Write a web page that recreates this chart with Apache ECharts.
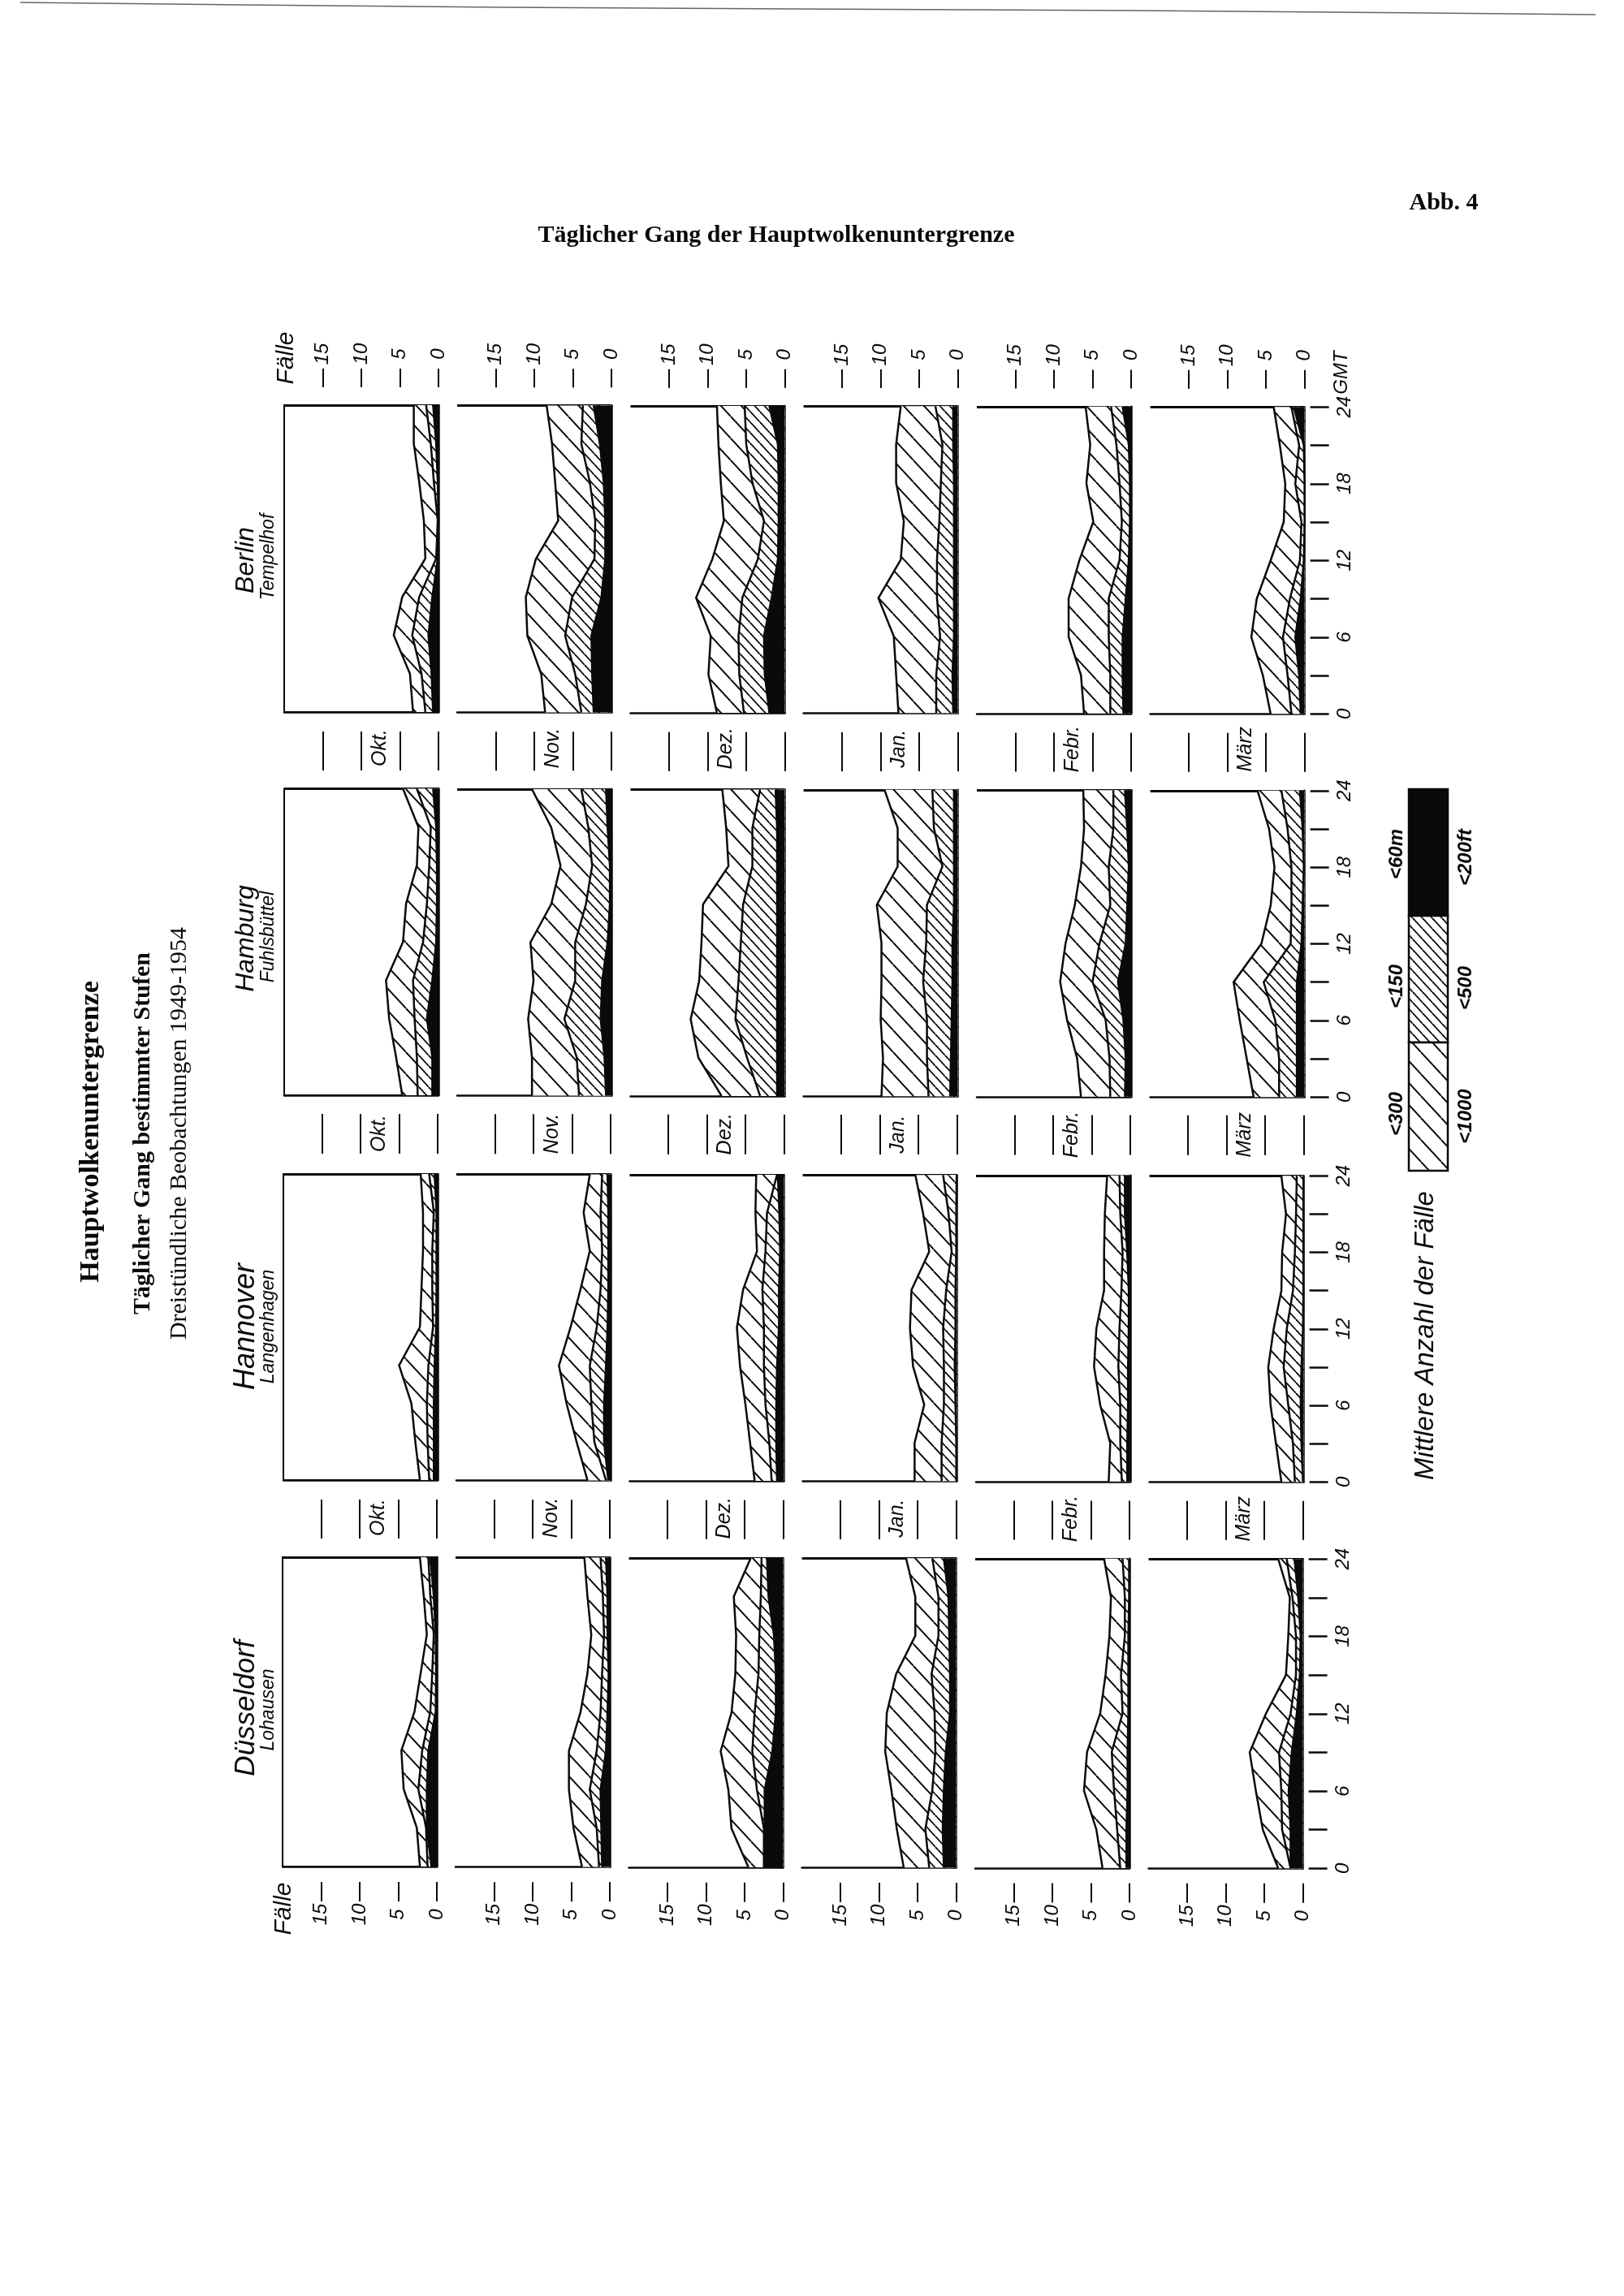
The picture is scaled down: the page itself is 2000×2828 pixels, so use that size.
<!DOCTYPE html>
<html><head><meta charset="utf-8">
<style>html,body{margin:0;padding:0;background:#fff}#c{width:2000px;height:2828px}</style>
<script src="https://cdn.jsdelivr.net/npm/echarts@6/dist/echarts.min.js"></script>
</head><body><div id="c"></div>
<script>
const hours = ['0','3','6','9','12','15','18','21','24'];
const valueTicks = [0,5,10,15];
const months = ['Okt.','Nov.','Dez.','Jan.','Febr.','März'];
const stations = ['Berlin','Hamburg','Hannover','Düsseldorf'];
const sites = ['Tempelhof','Fuhlsbüttel','Langenhagen','Lohausen'];
const bandNames = ['<300 m / <1000 ft','<150 m / <500 ft','<60 m / <200 ft'];

// each month: [<1000 ft, <500 ft, <200 ft] cumulative mean number of cases at 0,3,...,24 GMT
const berlinOkt = [[3.3,3.7,5.8,4.7,1.7,1.9,2.5,3.2,3.2],[1.7,2.2,3.4,2.5,0.3,0.1,0.6,1.0,1.6],[0.7,0.9,1.3,0.8,0.1,0,0.1,0.3,0.7]];
const berlinNov = [[8.6,9.1,10.9,11.1,9.8,6.9,7.3,7.7,8.4],[3.9,4.7,6.0,5.1,2.2,2.1,2.8,3.9,3.7],[2.3,2.5,2.6,1.3,0.8,0.8,1.0,1.5,2.3]];
const berlinDez = [[8.8,9.9,9.6,11.5,9.4,7.9,8.3,8.6,8.8],[5.3,5.9,6.0,5.5,3.5,2.7,4.2,5.0,5.2],[2.0,2.6,2.7,1.7,0.9,0.8,0.8,0.9,2.0]];
const berlinJan = [[7.7,8.0,8.3,10.3,7.4,7.0,8.0,8.0,7.4],[2.8,2.8,2.3,2.7,2.7,2.4,2.2,2.0,2.9],[0.6,0.7,0.5,0.5,0.5,0.5,0.5,0.6,0.6]];
const berlinFeb = [[6.1,6.5,8.1,8.1,6.7,4.9,5.8,5.3,5.9],[2.7,2.7,2.9,2.9,1.5,1.2,1.5,1.9,2.6],[1.0,1.1,1.1,0.7,0.3,0.15,0.15,0.3,1.1]];
const berlinMar = [[4.4,5.4,6.9,6.2,4.4,2.7,2.5,3.2,4.0],[1.7,2.2,2.8,1.9,0.6,0.4,1.2,0.7,1.7],[0.5,0.7,1.2,0.5,0.1,0,0,0.1,1.4]];

const hamburgOkt = [[4.7,5.5,6.4,6.8,4.6,4.2,2.8,2.6,4.6],[2.7,2.8,3.1,3.3,2.0,1.5,1.2,1.0,2.8],[0.8,0.8,1.5,0.8,0.3,0.2,0.2,0.3,0.7]];
const hamburgNov = [[10.3,10.3,10.8,10.1,10.5,7.8,6.6,7.8,10.3],[4.2,4.5,6.1,4.7,4.7,3.3,2.5,3.0,3.9],[0.7,0.9,1.4,1.2,0.5,0.2,0.2,0.5,0.7]];
const hamburgDez = [[8.2,11.2,12.2,11.1,10.8,10.6,7.3,7.6,8.1],[3.2,4.9,6.4,6.0,5.7,5.4,4.2,4.2,3.2],[1.0,1.0,1.0,1.0,1.0,1.0,1.0,1.0,1.2]];
const hamburgJan = [[9.9,9.7,10.0,9.9,9.9,10.5,7.8,7.8,9.5],[3.8,4.0,4.0,4.5,4.1,4.0,2.0,3.1,3.3],[1.0,0.9,0.8,0.7,0.7,0.5,0.5,0.5,0.5]];
const hamburgFeb = [[6.5,7.0,8.3,9.2,8.5,7.3,6.5,6.1,6.2],[2.7,2.8,3.3,5.0,4.1,2.7,2.9,2.3,2.3],[0.8,0.7,1.0,1.7,0.7,0.5,0.3,0.5,0.8]];
const hamburgMar = [[6.6,7.5,8.4,9.2,5.6,4.4,3.9,4.6,6.1],[3.3,3.3,3.8,5.3,1.8,1.7,1.7,2.2,3.0],[1.0,1.0,1.0,1.0,0.4,0.25,0.1,0.25,0.6]];

const hannoverOkt = [[2.3,2.9,3.4,5.0,2.3,2.1,1.9,1.9,2.2],[1.1,1.3,1.4,1.2,0.6,0.7,0.7,0.5,1.1],[0.5,0.5,0.5,0.4,0.2,0.15,0.15,0.15,0.4]];
const hannoverNov = [[3.0,4.4,5.7,6.7,5.2,3.9,2.7,3.5,2.7],[0.6,2.1,2.5,2.7,1.8,1.3,1.1,1.3,1.1],[0.3,0.85,0.85,0.6,0.4,0.3,0.3,0.3,0.4]];
const hannoverDez = [[3.8,4.4,5.0,5.7,6.1,5.3,3.5,3.7,3.6],[1.6,1.9,2.4,2.6,2.6,2.8,2.4,2.2,0.9],[0.9,1.0,1.0,0.9,0.65,0.65,0.5,0.6,0.8]];
const hannoverJan = [[5.5,5.5,4.25,5.7,6.1,5.9,3.6,4.4,5.4],[2.0,2.0,1.7,1.7,1.8,1.4,0.7,1.1,1.8],[0.1,0.1,0.2,0.3,0.2,0.2,0.1,0.1,0.05]];
const hannoverFeb = [[2.8,2.6,3.9,4.7,4.4,3.4,3.4,3.3,3.0],[1.1,1.3,1.3,1.55,1.4,1.15,1.0,1.3,1.4],[0.4,0.4,0.3,0.3,0.2,0.2,0.4,0.7,0.7]];
const hannoverMar = [[2.9,3.6,4.3,4.6,3.9,2.9,2.8,2.3,2.9],[1.15,1.4,2.0,2.6,2.2,1.4,1.15,1.0,0.9],[0.1,0.3,0.4,0.3,0.1,0.05,0.05,0.05,0.05]];

const duesseldorfOkt = [[2.2,2.6,4.3,4.6,2.9,2.1,1.3,1.7,2.2],[1.2,1.4,2.4,1.9,0.85,0.6,0.4,0.85,1.1],[0.7,1.3,1.3,1.1,0.15,0.1,0.15,0.4,0.85]];
const duesseldorfNov = [[3.6,4.7,5.3,5.3,3.8,2.9,2.4,2.9,3.3],[1.4,1.7,2.6,1.7,1.2,1.0,0.75,0.9,1.2],[1.0,1.1,1.2,0.5,0.3,0.15,0.3,0.3,0.5]];
const duesseldorfDez = [[4.5,6.7,7.1,8.1,6.7,6.2,6.1,6.4,4.2],[2.5,2.5,3.4,4.0,3.7,3.2,3.1,2.9,2.8],[2.4,2.4,2.4,1.4,0.95,0.95,1.2,1.9,2.1]];
const duesseldorfJan = [[6.8,7.7,8.4,9.2,9.0,7.8,5.3,5.3,6.5],[3.5,4.0,3.1,2.7,2.8,3.2,2.3,2.3,3.1],[1.6,1.75,1.6,1.35,0.8,0.8,0.9,1.0,1.6]];
const duesseldorfFeb = [[3.5,4.3,5.9,5.5,3.8,3.1,2.6,2.4,3.3],[1.2,1.6,2.0,2.3,0.9,1.1,0.6,0.6,0.9],[0.4,0.4,0.25,0.25,0.15,0.15,0.15,0.05,0.05]];
const duesseldorfMar = [[3.2,5.2,6.1,6.9,4.8,2.2,1.9,1.7,3.2],[1.6,2.7,2.8,3.1,1.6,0.9,0.9,1.35,2.1],[1.6,1.6,1.85,1.45,0.8,0.4,0.3,0.6,1.1]];

const panels = [
  [berlinOkt,berlinNov,berlinDez,berlinJan,berlinFeb,berlinMar],
  [hamburgOkt,hamburgNov,hamburgDez,hamburgJan,hamburgFeb,hamburgMar],
  [hannoverOkt,hannoverNov,hannoverDez,hannoverJan,hannoverFeb,hannoverMar],
  [duesseldorfOkt,duesseldorfNov,duesseldorfDez,duesseldorfJan,duesseldorfFeb,duesseldorfMar]
];

// ---- layout ----
const colRight = [540,753,966.5,1179.6,1393,1606.6];
const rowTop = [499,971.5,1446,1918], rowBottom = [877,1349,1823,2299];
const rowDx = [0,0,-1,-2];
const colDy = c => c*0.45;
const panelW = 190, unit = panelW/20;
const strips = [[454,477],[901,949],[1372,1421],[1847,1895],[2318,2342]];
const INK = '#0a0a0a';
const sans = '"Liberation Sans", Arimo, sans-serif';
const serif = '"Liberation Serif", "DejaVu Serif", serif';

function hatch(w,h,lw){
  const c=document.createElement('canvas'); c.width=w; c.height=h;
  const g=c.getContext('2d'); g.fillStyle='#fff'; g.fillRect(0,0,w,h);
  g.strokeStyle=INK; g.lineWidth=lw;
  for(const dx of [-w,0,w]){ g.beginPath(); g.moveTo(dx,0); g.lineTo(dx+w,h); g.stroke(); }
  return c;
}
const wide={image:hatch(25,27,1.9),repeat:'repeat'};
const dense={image:hatch(12,13,1.8),repeat:'repeat'};
const fills=[wide,dense,INK];

const grid=[],xAxis=[],yAxis=[],series=[],graphic=[];
function addGrid(g,x,y){grid.push(g);const i=grid.length-1;xAxis.push(Object.assign({gridIndex:i},x));yAxis.push(Object.assign({gridIndex:i},y));return i;}
const hiddenY={type:'value',show:false,min:0,max:1};

panels.forEach((row,r)=>row.forEach((bands,c)=>{
  const right=colRight[c]+rowDx[r], top=rowTop[r]+colDy(c), bottom=rowBottom[r]+colDy(c);
  const i=addGrid(
    Object.assign({left:right-panelW,width:panelW,top:top,height:bottom-top},
      c===0?{show:true,borderColor:INK,borderWidth:2,backgroundColor:'transparent'}:{}),
    {type:'value',min:0,max:20,inverse:true,position:'bottom',
     axisLine:{show:true,onZero:false,lineStyle:{color:INK,width:2.5}},axisTick:{show:false},axisLabel:{show:false},splitLine:{show:false}},
    {type:'category',data:hours,boundaryGap:false,position:'right',
     axisLine:{show:true,onZero:false,lineStyle:{color:INK,width:2.5}},axisTick:{show:false},axisLabel:{show:false},
     splitLine:{show:true,interval:(idx)=>idx===8,lineStyle:{color:INK,width:3}}}
  );
  bands.forEach((vals,b)=>series.push({
    name:bandNames[b],type:'line',xAxisIndex:i,yAxisIndex:i,data:vals,
    showSymbol:false,symbol:'none',clip:false,animation:false,silent:true,
    lineStyle:{color:INK,width:2.5,join:'miter'},
    areaStyle:{color:fills[b],opacity:1,origin:'start'},z:2+b
  }));
}));

function vtext(t,x,y,font,extra){graphic.push({type:'text',x:x,y:y,rotation:Math.PI/2,
  style:Object.assign({text:t,font:font,fill:INK,align:'center',verticalAlign:'middle'},extra||{})});}

// value tick strips, above, between and below the station rows
strips.forEach((s,k)=>{
  colRight.forEach((cr,c)=>{
    const rr=Math.min(k,3), right=cr+rowDx[rr], dy=colDy(c)*0.8;
    addGrid({left:right-panelW,width:panelW,top:s[0]+dy,height:s[1]-s[0]},
      {type:'value',min:0,max:20,inverse:true,position:k===4?'bottom':'top',
       axisLine:{show:false,onZero:false},splitLine:{show:false},axisLabel:{show:false},
       axisTick:{show:true,inside:true,length:s[1]-s[0],customValues:valueTicks,lineStyle:{color:INK,width:2}}},
      hiddenY);
    if(k===0||k===4){
      valueTicks.forEach(v=>vtext(String(v),right-v*unit,(k===0?436:2358)+dy,'italic 24px '+sans));
    } else {
      vtext(months[c],right-7.5*unit-1,[0,921,1396,1869][k]+dy,'italic 25px '+sans);
    }
  });
});

// time axis to the right of the last column
rowTop.forEach((t,r)=>{
  const d=colDy(5), right=colRight[5]+rowDx[r];
  addGrid({left:right+7,width:23,top:t+d,height:rowBottom[r]-t},
    {type:'value',show:false,min:0,max:1},
    {type:'category',data:hours,boundaryGap:false,position:'right',
     axisLine:{show:false,onZero:false},splitLine:{show:false},
     axisTick:{show:true,inside:true,length:23,interval:0,lineStyle:{color:INK,width:2.5}},
     axisLabel:{show:true,interval:(i)=>i%2===0,rotate:90,margin:8,color:INK,fontFamily:sans,fontStyle:'italic',fontSize:24}});
});

// scan edge at the top of the sheet
graphic.push({type:'polyline',shape:{points:[[25,3],[300,6],[620,9],[980,11],[1400,13],[1760,16],[1965,18]]},style:{stroke:'#666',lineWidth:1.6,fill:'none'}});

// titles
graphic.push({type:'text',x:956,y:290,style:{text:'Täglicher Gang der Hauptwolkenuntergrenze',font:'bold 30px '+serif,fill:INK,align:'center',verticalAlign:'middle'}});
graphic.push({type:'text',x:1778,y:250,style:{text:'Abb. 4',font:'bold 30px '+serif,fill:INK,align:'center',verticalAlign:'middle'}});
vtext('Hauptwolkenuntergrenze',112,1394,'bold 34px '+serif);
vtext('Täglicher Gang bestimmter Stufen',176,1396,'bold 30px '+serif);
vtext('Dreistündliche Beobachtungen 1949-1954',221,1396,'30px '+serif);

// station labels
const stationY=[690,1156,1634,2104], siteY=[686,1154,1634,2106], stationSize=[32,32,36,35];
stations.forEach((s,i)=>{
  vtext(s,303,stationY[i],'italic '+stationSize[i]+'px '+sans);
  vtext(sites[i],331,siteY[i],'italic 23px '+sans);
});
vtext('Fälle',353,441,'italic 30px '+sans);
vtext('Fälle',350,2351,'italic 30px '+sans);
vtext('GMT',1652,459,'italic 24px '+sans);

// legend key
[[972,156,INK],[1128,156,dense],[1284,158,wide]].forEach(k=>{
  graphic.push({type:'rect',shape:{x:1735,y:k[0],width:48,height:k[1]},style:{fill:k[2],stroke:INK,lineWidth:2.5}});
});
vtext('<60m',1720,1052,'italic bold 24px '+sans);
vtext('<150',1720,1215,'italic bold 24px '+sans);
vtext('<300',1720,1372,'italic bold 24px '+sans);
vtext('<200ft',1805,1056,'italic bold 24px '+sans);
vtext('<500',1805,1217,'italic bold 24px '+sans);
vtext('<1000',1805,1375,'italic bold 24px '+sans);
vtext('Mittlere Anzahl der Fälle',1756,1645,'italic 33px '+sans);

const chart=echarts.init(document.getElementById('c'),null,{renderer:'canvas',width:2000,height:2828});
chart.setOption({backgroundColor:'#fff',animation:false,grid,xAxis,yAxis,series,graphic:{elements:graphic}});
</script></body></html>
